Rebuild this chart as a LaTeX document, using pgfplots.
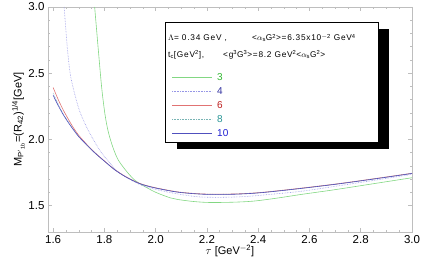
\documentclass[border=0pt]{standalone}
\usepackage{pgfplots}
\pgfplotsset{compat=1.18}
\usepackage{fontspec}
\setmainfont{Liberation Sans}
\definecolor{cgreen}{RGB}{130,215,130}
\definecolor{cdblue}{RGB}{150,150,230}
\definecolor{cred}{RGB}{225,115,115}
\definecolor{cteal}{RGB}{120,180,180}
\definecolor{cblue}{RGB}{80,80,190}
\definecolor{tgreen}{RGB}{50,185,50}
\definecolor{tdblue}{RGB}{50,50,160}
\definecolor{tred}{RGB}{190,30,30}
\definecolor{tteal}{RGB}{40,150,150}
\definecolor{tblue}{RGB}{30,30,210}
\definecolor{framegray}{RGB}{190,190,190}
\begin{document}
\begin{tikzpicture}
\useasboundingbox (0,0) rectangle (436pt,272pt);
\begin{axis}[
  at={(48pt,40pt)}, anchor=south west,
  scale only axis, width=364pt, height=225pt,
  xmin=1.58, xmax=3.0, ymin=1.3, ymax=3.0,
  xtick={1.6,1.8,...,3.0}, ytick={1.5,2.0,2.5,3.0},
  xticklabel style={/pgf/number format/.cd,fixed,fixed zerofill,precision=1},
  yticklabel style={/pgf/number format/.cd,fixed,fixed zerofill,precision=1},
  /pgf/number format/assume math mode=true,
  minor x tick num=3, minor y tick num=4,
  axis line style={framegray, line width=0.6pt},
  tick style={framegray, line width=0.5pt},
  major tick length=4pt, minor tick length=2pt,
  tick align=inside,
  ticklabel style={font=\fontsize{11.5}{13}\selectfont},
  xlabel={$\tau$ [GeV\textsuperscript{$-$2}]},
  ylabel={M\textsubscript{P$'$\textsubscript{1b}}=(R\textsubscript{42})\textsuperscript{1/4}[GeV]},
  label style={font=\fontsize{11}{13}\selectfont},
  xlabel style={yshift=5pt},
  ylabel style={yshift=-3pt},
  clip=true,
]
\addplot[cgreen, line width=0.6pt, smooth, tension=0.5] coordinates {
(1.762,3.0) (1.777,2.66) (1.790,2.38) (1.803,2.18) (1.816,2.05) (1.835,1.93) (1.855,1.841)
(1.89,1.75) (1.92,1.689) (1.95,1.652) (2.0,1.60) (2.057,1.558) (2.088,1.545) (2.15,1.530)
(2.21,1.523) (2.30,1.525) (2.38,1.533) (2.47,1.555) (2.565,1.583) (2.70,1.62) (2.85,1.665) (3.00,1.71)};
\addplot[cdblue, line width=0.6pt, densely dotted, smooth, tension=0.5] coordinates {
(1.643,3.0) (1.655,2.70) (1.668,2.48) (1.69,2.30) (1.705,2.205) (1.725,2.115) (1.742,2.05)
(1.77,1.955) (1.80,1.87) (1.86,1.745) (1.95,1.65) (2.057,1.598) (2.16,1.567) (2.25,1.562)
(2.35,1.568) (2.45,1.585) (2.565,1.607) (2.70,1.645) (2.85,1.69) (3.00,1.735)};
\addplot[cred, line width=0.6pt, smooth, tension=0.5] coordinates {
(1.60,2.392) (1.62,2.30) (1.64,2.22) (1.66,2.15) (1.68,2.085) (1.70,2.03) (1.725,1.975)
(1.745,1.933) (1.77,1.887) (1.80,1.837) (1.84,1.772) (1.88,1.722) (1.92,1.682) (1.95,1.659)
(2.00,1.634) (2.09,1.602) (2.19,1.587) (2.30,1.587) (2.40,1.597) (2.526,1.622) (2.70,1.662)
(2.85,1.702) (3.00,1.744)};
\addplot[cteal, line width=0.6pt, densely dotted, smooth, tension=0.5] coordinates {
(1.60,2.35) (1.62,2.265) (1.64,2.19) (1.66,2.13) (1.68,2.075) (1.70,2.022) (1.725,1.971)
(1.745,1.931) (1.77,1.886) (1.80,1.836) (1.84,1.771) (1.88,1.721) (1.92,1.681) (1.95,1.658)
(2.00,1.633) (2.09,1.601) (2.19,1.586) (2.30,1.586) (2.40,1.596) (2.526,1.621) (2.70,1.661)
(2.85,1.701) (3.00,1.743)};
\addplot[cblue, line width=0.6pt, smooth, tension=0.5] coordinates {
(1.60,2.333) (1.62,2.255) (1.64,2.185) (1.66,2.125) (1.68,2.07) (1.70,2.02) (1.725,1.97)
(1.745,1.93) (1.77,1.885) (1.80,1.835) (1.84,1.77) (1.88,1.72) (1.92,1.68) (1.95,1.657)
(2.00,1.632) (2.09,1.60) (2.19,1.585) (2.30,1.585) (2.40,1.595) (2.526,1.62) (2.70,1.66)
(2.85,1.70) (3.00,1.742)};
\end{axis}
% legend box with shadow
\fill[black] (177pt,243pt) rectangle (389pt,123pt);
\draw[black, line width=0.8pt, fill=white] (165pt,250pt) rectangle (378pt,130pt);
\begin{scope}[every node/.style={inner sep=0pt, anchor=west, font=\fontsize{8.3}{10}\selectfont\addfontfeature{LetterSpace=9}}]
\node at (168pt,234pt) {$\Lambda$= 0.34 GeV ,};
\node at (252pt,234pt) {<$\alpha_{\mathrm{s}}$G\textsuperscript{2}>=6.35x10\textsuperscript{$-$2} GeV\textsuperscript{4}};
\node at (168pt,217pt) {t\textsubscript{c}[GeV\textsuperscript{2}],};
\node at (223pt,217pt) {<g\textsuperscript{3}G\textsuperscript{3}>=8.2 GeV\textsuperscript{2}<$\alpha_{\mathrm{s}}$G\textsuperscript{2}>};
\end{scope}
\draw[cgreen, line width=0.6pt] (172pt,195pt) -- (212pt,195pt);
\draw[cdblue, line width=0.6pt, densely dotted] (172pt,181pt) -- (212pt,181pt);
\draw[cred, line width=0.6pt] (172pt,167pt) -- (212pt,167pt);
\draw[cteal, line width=0.6pt, densely dotted] (172pt,153pt) -- (212pt,153pt);
\draw[cblue, line width=0.6pt] (172pt,139pt) -- (212pt,139pt);
\begin{scope}[every node/.style={inner sep=0pt, anchor=west, font=\fontsize{10}{12}\selectfont}]
\node[text=tgreen] at (217pt,195pt) {3};
\node[text=tdblue] at (217pt,181pt) {4};
\node[text=tred] at (217pt,167pt) {6};
\node[text=tteal] at (217pt,153pt) {8};
\node[text=tblue] at (217pt,139pt) {10};
\end{scope}
\end{tikzpicture}
\end{document}
